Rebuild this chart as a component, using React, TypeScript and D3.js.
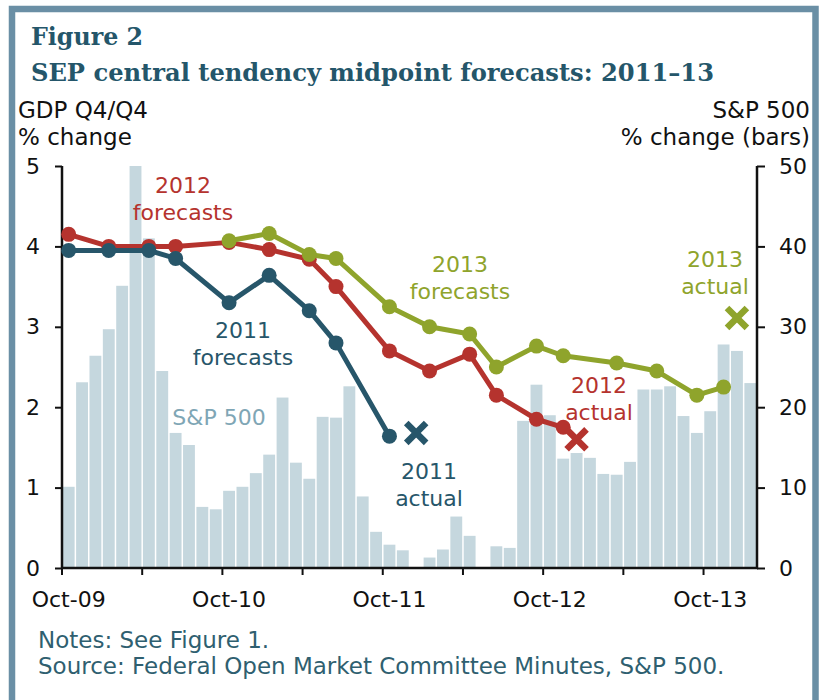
import React, { useRef, useEffect } from 'react';
import * as d3 from 'd3';

/* ─── Colours ─── */
const C = {
    frame: '#6a8fa5',
    title: '#24566a',
    blue: '#27566a',
    red: '#b5332e',
    green: '#8fa42c',
    bar: '#c5d7de',
    barLabel: '#7fa6b5',
    note: '#2f5f70',
    axis: '#111',
};

const SANS = "'DejaVu Sans', Verdana, sans-serif";
const SERIF = "'DejaVu Serif', Georgia, serif";

/* ─── Data ─── */
// monthly categories, Oct-09 .. Jan-14
const months = d3.timeMonth.range(new Date(2009, 9, 1), new Date(2014, 1, 1)).map(d3.timeFormat('%Y-%m'));

// S&P 500, year-over-year % change (bars, right axis)
const spChange = [
    10.1, 23.1, 26.4, 29.7, 35.1, 50.0, 41.0, 24.5, 16.8, 15.3, 7.6, 7.3,
    9.6, 10.1, 11.8, 14.1, 21.2, 13.1, 11.1, 18.8, 18.7, 22.6, 8.9, 4.5,
    2.9, 2.2, -1.0, 1.3, 2.3, 6.4, 4.0, -0.5, 2.7, 2.5, 18.3, 22.8,
    19.0, 13.6, 14.3, 13.7, 11.7, 11.6, 13.2, 22.2, 22.2, 22.6, 18.9, 16.8,
    19.5, 27.8, 27.0, 23.0,
];

// SEP central tendency midpoints, GDP Q4/Q4 % change
const forecast2011Dates = ['2009-10', '2010-01', '2010-04', '2010-06', '2010-10', '2011-01', '2011-04', '2011-06', '2011-10'];
const forecast2011 = [3.95, 3.95, 3.95, 3.85, 3.30, 3.64, 3.20, 2.80, 1.64];

const forecast2012Dates = ['2009-10', '2010-01', '2010-04', '2010-06', '2010-10', '2011-01', '2011-04', '2011-06', '2011-10', '2012-01', '2012-04', '2012-06', '2012-09', '2012-11'];
const forecast2012 = [4.15, 4.0, 4.0, 4.0, 4.05, 3.96, 3.84, 3.50, 2.70, 2.45, 2.66, 2.15, 1.85, 1.75];

const forecast2013Dates = ['2010-10', '2011-01', '2011-04', '2011-06', '2011-10', '2012-01', '2012-04', '2012-06', '2012-09', '2012-11', '2013-03', '2013-06', '2013-09', '2013-11'];
const forecast2013 = [4.07, 4.16, 3.90, 3.85, 3.25, 3.00, 2.91, 2.50, 2.76, 2.64, 2.55, 2.45, 2.15, 2.25];

// actual outcomes (X markers)
const actualDates = ['2011-12', '2012-12', '2013-12'];
const actualValues = [1.68, 1.60, 3.11];

// axes
const gdpTicks = [0, 1, 2, 3, 4, 5];
const spTicks = [0, 10, 20, 30, 40, 50];
const xTickMonths = ['2009-10', '2010-04', '2010-10', '2011-04', '2011-10', '2012-04', '2012-10', '2013-04', '2013-10'];
const xLabelMonths = ['2009-10', '2010-10', '2011-10', '2012-10', '2013-10'];
const xLabels = ['Oct-09', 'Oct-10', 'Oct-11', 'Oct-12', 'Oct-13'];

const W = 819, H = 700;
const plot = { left: 62, right: 757, top: 166, bottom: 568 };

export default function App() {
    const svgRef = useRef<SVGSVGElement>(null);

    useEffect(() => {
        const svg = d3.select(svgRef.current);
        svg.selectAll('*').remove();

        const x = d3.scaleBand().domain(months).range([plot.left, plot.right]).padding(0);
        const bw = x.bandwidth();
        const cx = (m: string) => (x(m) as number) + bw / 2;
        const yL = d3.scaleLinear().domain([0, 5]).range([plot.bottom, plot.top]);
        const yR = d3.scaleLinear().domain([0, 50]).range([plot.bottom, plot.top]).clamp(true);

        svg.append('rect').attr('width', W).attr('height', H).attr('fill', '#fff');

        // frame
        svg.append('rect').attr('x', 12).attr('y', 9).attr('width', 803.5).attr('height', 720)
            .attr('fill', 'none').attr('stroke', C.frame).attr('stroke-width', 6.5);

        // titles
        svg.append('text').attr('x', 31).attr('y', 45).text('Figure 2')
            .attr('font-family', SERIF).attr('font-weight', 700).attr('font-size', 25).attr('fill', C.title)
            .attr('textLength', 112).attr('lengthAdjust', 'spacingAndGlyphs');
        svg.append('text').attr('x', 31).attr('y', 81).text('SEP central tendency midpoint forecasts: 2011–13')
            .attr('font-family', SERIF).attr('font-weight', 700).attr('font-size', 25).attr('fill', C.title)
            .attr('textLength', 683).attr('lengthAdjust', 'spacingAndGlyphs');

        // axis titles
        const axTitle = (t: string, xx: number, yy: number, anchor: string) =>
            svg.append('text').attr('x', xx).attr('y', yy).attr('text-anchor', anchor).text(t)
                .attr('font-family', SANS).attr('font-size', 23).attr('fill', '#111');
        axTitle('GDP Q4/Q4', 18, 118, 'start');
        axTitle('% change', 18, 145, 'start');
        axTitle('S&P 500', 810, 118, 'end');
        axTitle('% change (bars)', 810, 145, 'end');

        // bars
        svg.append('g').selectAll('rect').data(spChange).join('rect')
            .attr('x', (_, i) => (x(months[i]) as number) + 0.75)
            .attr('width', bw - 1.5)
            .attr('y', d => yR(Math.max(0, d)))
            .attr('height', d => yR(0) - yR(Math.max(0, d)))
            .attr('fill', C.bar);

        // axes
        const styleAxis = (g: any) => {
            g.select('.domain').remove();
            g.selectAll('line').attr('stroke', C.axis).attr('stroke-width', 2);
            g.selectAll('text').attr('font-family', SANS).attr('font-size', 22).attr('fill', '#111');
        };
        svg.append('g').attr('transform', `translate(${plot.left},0)`)
            .call(d3.axisLeft(yL).tickValues(gdpTicks).tickSize(7).tickPadding(15).tickFormat(d3.format('d')))
            .call(styleAxis);
        svg.append('g').attr('transform', `translate(${plot.right},0)`)
            .call(d3.axisRight(yR).tickValues(spTicks).tickSize(8).tickPadding(14).tickFormat(d3.format('d')))
            .call(styleAxis);

        const axG = svg.append('g');
        axG.selectAll('line.tk').data(xTickMonths).join('line').attr('class', 'tk')
            .attr('x1', d => x(d) as number).attr('x2', d => x(d) as number)
            .attr('y1', plot.bottom).attr('y2', plot.bottom + 7)
            .attr('stroke', C.axis).attr('stroke-width', 2);
        axG.selectAll('text').data(xLabelMonths).join('text')
            .attr('x', d => cx(d)).attr('y', 607).attr('text-anchor', 'middle')
            .attr('font-family', SANS).attr('font-size', 22).attr('fill', '#111')
            .text((_, i) => xLabels[i]);

        // axis lines
        axG.append('line').attr('x1', plot.left).attr('x2', plot.left).attr('y1', plot.top).attr('y2', plot.bottom)
            .attr('stroke', C.axis).attr('stroke-width', 2.5);
        axG.append('line').attr('x1', plot.right).attr('x2', plot.right).attr('y1', plot.top).attr('y2', plot.bottom)
            .attr('stroke', C.axis).attr('stroke-width', 2.5);
        axG.append('line').attr('x1', plot.left - 1).attr('x2', plot.right + 1).attr('y1', plot.bottom).attr('y2', plot.bottom)
            .attr('stroke', C.axis).attr('stroke-width', 2.5);

        // forecast lines
        const line = d3.line<[string, number]>().x(d => cx(d[0])).y(d => yL(d[1]));
        const series: [string[], number[], string][] = [
            [forecast2012Dates, forecast2012, C.red],
            [forecast2011Dates, forecast2011, C.blue],
            [forecast2013Dates, forecast2013, C.green],
        ];
        series.forEach(([dates, vals, col]) => {
            const pts = dates.map((d, i) => [d, vals[i]] as [string, number]);
            const g = svg.append('g');
            g.append('path').datum(pts).attr('d', line).attr('fill', 'none')
                .attr('stroke', col).attr('stroke-width', 5).attr('stroke-linejoin', 'round');
            g.selectAll('circle').data(pts).join('circle')
                .attr('cx', d => cx(d[0])).attr('cy', d => yL(d[1])).attr('r', 7.5).attr('fill', col);
        });

        // actual outcomes
        const actualColors = [C.blue, C.red, C.green];
        const xSym = d3.symbol().type(d3.symbolX).size(260);
        svg.append('g').selectAll('path').data(actualDates).join('path')
            .attr('transform', (d, i) => `translate(${cx(d)},${yL(actualValues[i])})`)
            .attr('d', xSym as any).attr('fill', 'none')
            .attr('stroke', (_, i) => actualColors[i]).attr('stroke-width', 6.5);

        // in-chart labels
        const label = (lines: string[], xx: number, yy: number, col: string) => {
            const t = svg.append('text').attr('text-anchor', 'middle')
                .attr('font-family', SANS).attr('font-size', 22).attr('fill', col);
            lines.forEach((s, i) => t.append('tspan').attr('x', xx).attr('y', yy + i * 27).text(s));
        };
        label(['2012', 'forecasts'], 183, 193, C.red);
        label(['2011', 'forecasts'], 243, 338, C.blue);
        label(['S&P 500'], 219, 425, C.barLabel);
        label(['2013', 'forecasts'], 460, 272, C.green);
        label(['2011', 'actual'], 429, 479, C.blue);
        label(['2012', 'actual'], 599, 393, C.red);
        label(['2013', 'actual'], 715, 267, C.green);

        // notes
        const notes = ['Notes: See Figure 1.', 'Source: Federal Open Market Committee Minutes, S&P 500.'];
        notes.forEach((s, i) => svg.append('text').attr('x', 38).attr('y', 648 + i * 26).text(s)
            .attr('font-family', SANS).attr('font-size', 23).attr('fill', C.note));
    }, []);

    return <svg ref={svgRef} width={W} height={H} style={{ position: 'absolute', left: 0, top: 0 }} />;
}
